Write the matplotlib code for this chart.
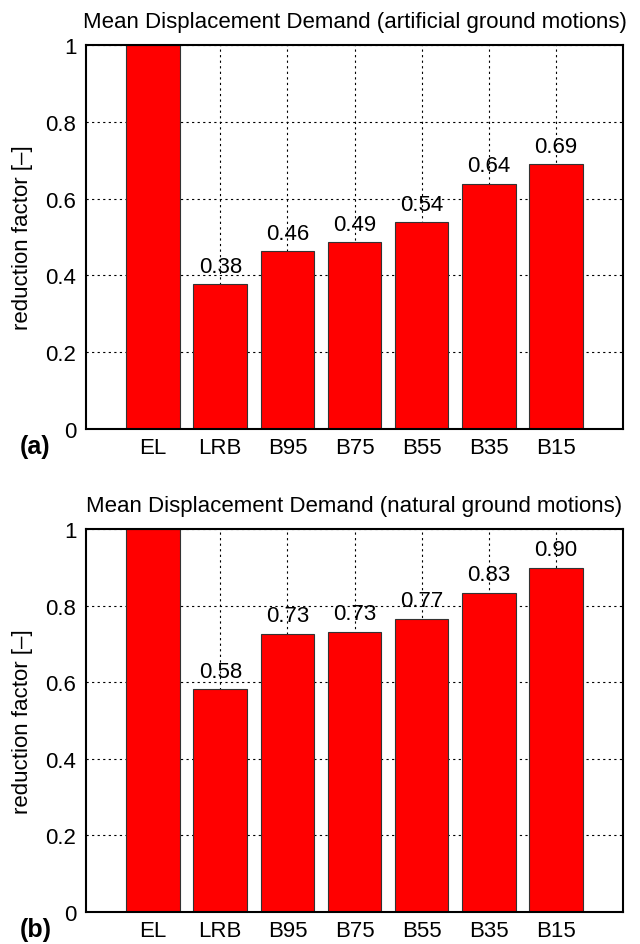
import matplotlib.pyplot as plt
import numpy as np

plt.rcParams['font.family'] = ['Liberation Sans', 'DejaVu Sans']

categories = ['EL', 'LRB', 'B95', 'B75', 'B55', 'B35', 'B15']
artificial = [1.0, 0.377, 0.463, 0.486, 0.538, 0.638, 0.689]
natural = [1.0, 0.581, 0.727, 0.732, 0.766, 0.834, 0.898]
titles = ['Mean Displacement Demand (artificial ground motions)',
          'Mean Displacement Demand (natural ground motions)']
panel_labels = ['(a)', '(b)']

fig = plt.figure(figsize=(6.4, 9.45), dpi=100)
ax_a = fig.add_axes([86 / 640, 1 - 430 / 945, 537 / 640, 384 / 945])
ax_b = fig.add_axes([86 / 640, 1 - 913 / 945, 537 / 640, 383 / 945])

x = np.arange(1, len(categories) + 1)
for ax, vals, title, plab in zip([ax_a, ax_b], [artificial, natural], titles, panel_labels):
    ax.set_axisbelow(True)
    ax.grid(True, color='black', linestyle=(0, (2, 3)), linewidth=0.8)
    ax.bar(x, vals, width=0.8, color='#ff0000', edgecolor='#333333', linewidth=0.8)
    for xi, v in zip(x[1:], vals[1:]):
        ax.text(xi, v + 0.02, f'{v:.2f}', ha='center', va='bottom', fontsize=16)
    ax.set_xlim(0, 8)
    ax.set_ylim(0, 1)
    ax.set_xticks(x)
    ax.set_xticklabels(categories, fontsize=16)
    ax.set_yticks([0, 0.2, 0.4, 0.6, 0.8, 1])
    ax.set_yticklabels(['0', '0.2', '0.4', '0.6', '0.8', '1'], fontsize=16)
    ax.tick_params(axis='x', length=0, pad=6)
    ax.tick_params(axis='y', length=0, pad=7)
    for sp in ax.spines.values():
        sp.set_linewidth(1.5)
    ax.set_title(title, fontsize=16, pad=13)
    ax.set_ylabel('reduction factor [–]', fontsize=16, labelpad=9)

# panel letters below the y axis, left of the first category
fig.text(20 / 640, 1 - 447 / 945, panel_labels[0], fontsize=18,
         fontweight='bold', ha='left', va='center')
fig.text(20 / 640, 1 - 930 / 945, panel_labels[1], fontsize=18,
         fontweight='bold', ha='left', va='center')

fig.savefig('out.png', dpi=100)
